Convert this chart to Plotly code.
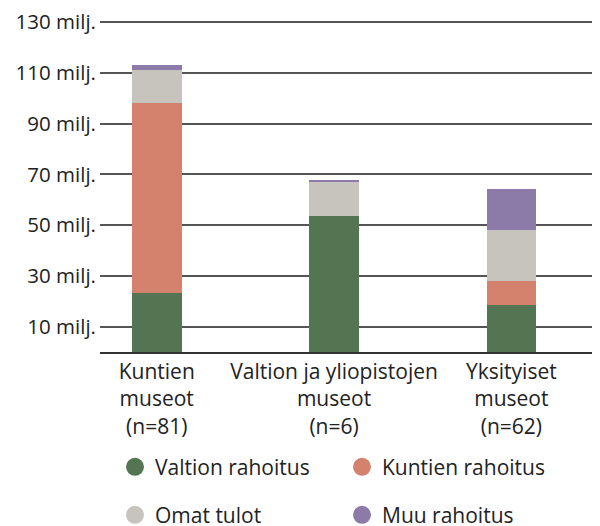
import plotly.graph_objects as go

categories = ["Kuntien<br>museot<br>(n=81)", "Valtion ja yliopistojen<br>museot<br>(n=6)", "Yksityiset<br>museot<br>(n=62)"]
valtion = [23.2, 53.5, 18.6]
kuntien = [75.0, 0.0, 9.4]
omat = [12.8, 13.5, 20.0]
muu = [2.1, 0.9, 16.1]
tick_vals = [10, 30, 50, 70, 90, 110, 130]
tick_text = [f"{v} milj." for v in tick_vals]

series = [
    ("Valtion rahoitus", valtion, "#537552", "legend"),
    ("Kuntien rahoitus", kuntien, "#d4826e", "legend"),
    ("Omat tulot", omat, "#c7c3bd", "legend2"),
    ("Muu rahoitus", muu, "#8c7ba8", "legend2"),
]

FONT = "Open Sans"
SIZE = 21
TEXT = "#222222"

fig = go.Figure()
for name, vals, color, _ in series:
    fig.add_trace(go.Bar(
        x=categories, y=vals, name=name, marker_color=color,
        marker_line_width=0, width=0.28, showlegend=False,
    ))
# circle legend entries
for name, vals, color, lg in series:
    fig.add_trace(go.Scatter(
        x=[None], y=[None], mode="markers", name=name, legend=lg,
        marker=dict(symbol="circle", size=20, color=color, line=dict(color=color, width=2)),
    ))

legend_common = dict(
    orientation="h", xanchor="left", yanchor="middle", traceorder="normal",
    font=dict(family=FONT, size=SIZE, color=TEXT),
    entrywidth=182, entrywidthmode="pixels", bgcolor="rgba(0,0,0,0)",
)

# page body adds an 8px offset, so the figure is 592x518
fig.update_layout(
    width=592, height=518,
    margin=dict(l=92, r=0, t=12.7, b=173.5, autoexpand=False),
    barmode="stack",
    plot_bgcolor="white", paper_bgcolor="white",
    font=dict(family=FONT, size=SIZE, color=TEXT),
    xaxis=dict(
        range=[-0.32, 2.5], showgrid=False, ticks="",
        showline=True, linecolor="#333333", linewidth=1.5,
        tickfont=dict(family=FONT, size=SIZE, color=TEXT),
    ),
    yaxis=dict(
        range=[0, 130.5], tickvals=tick_vals, ticktext=tick_text,
        showgrid=True, gridcolor="#555555", gridwidth=1.5,
        zeroline=False, ticks="", ticklabelstandoff=3,
        ticklabeloverflow="allow",
        tickfont=dict(family=FONT, size=20.5, color=TEXT),
    ),
    legend=dict(x=0.03, y=-0.348, **legend_common),
    legend2=dict(x=0.03, y=-0.493, **legend_common),
)

fig.write_html("out.html")
